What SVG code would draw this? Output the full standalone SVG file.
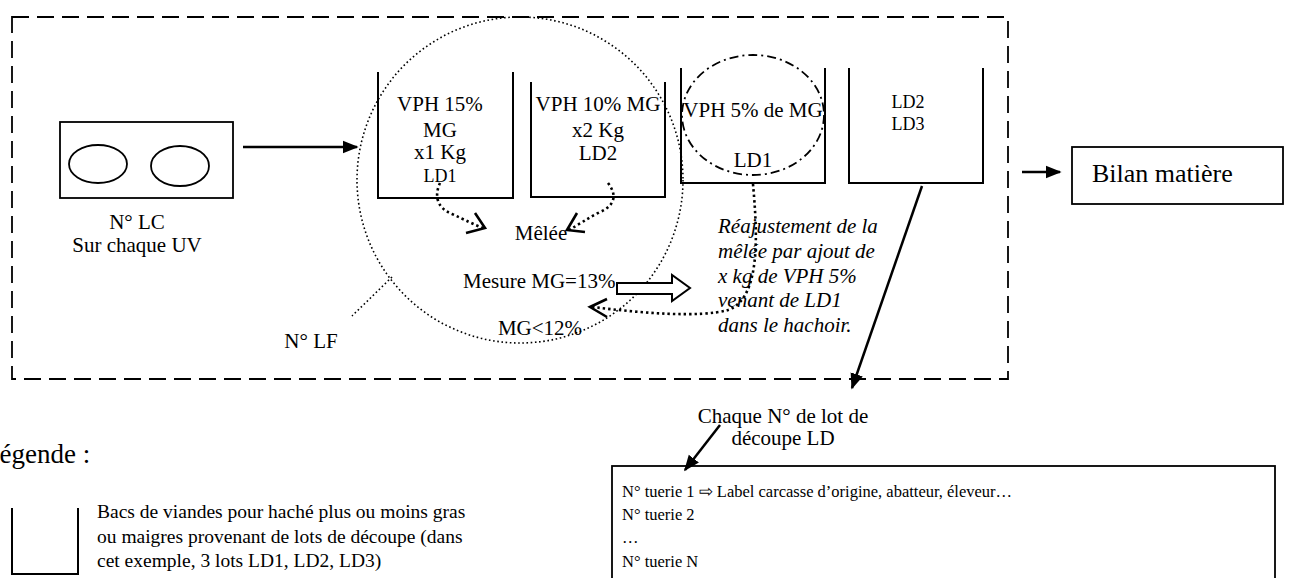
<svg xmlns="http://www.w3.org/2000/svg" width="1295" height="578" viewBox="0 0 1295 578" font-family="'Liberation Serif', 'Times New Roman', serif">
<style>
text{font-family:"Liberation Serif","Times New Roman",serif;fill:#000}
.t21{font-size:21px}
.t18{font-size:18px}
.leg{font-size:19.5px}
.tu{font-size:16.5px}
.it{font-style:italic;font-size:21px}
.bin{fill:none;stroke:#000;stroke-width:2}
.dotc{fill:none;stroke:#000;stroke-width:1.6;stroke-dasharray:1.6 2.6}
.doth{fill:none;stroke:#000;stroke-width:2.6;stroke-dasharray:2.4 3}
.chev{fill:none;stroke:#000;stroke-width:2.6}
.conn{fill:none;stroke:#000;stroke-width:2.5}
</style>
<defs>
<marker id="ahBig" viewBox="0 0 10 10" refX="9" refY="5" markerWidth="16" markerHeight="16" markerUnits="userSpaceOnUse" orient="auto">
<path d="M0,1 L10,5 L0,9 z" fill="#000"/>
</marker>
</defs>

<g id="frame">
<rect x="12" y="17" width="996" height="362" fill="none" stroke="#000" stroke-width="1.8" stroke-dasharray="17 8"/>
</g>

<g id="lc">
<rect x="60" y="122" width="173" height="76" fill="none" stroke="#000" stroke-width="1.8"/>
<ellipse cx="98" cy="164" rx="29" ry="19" fill="none" stroke="#000" stroke-width="1.8"/>
<ellipse cx="180" cy="166" rx="29" ry="20" fill="none" stroke="#000" stroke-width="1.8"/>
<text class="t21" x="137" y="229" text-anchor="middle">N° LC</text>
<text class="t21" x="137" y="252" text-anchor="middle">Sur chaque UV</text>
</g>

<g id="lf">
<circle cx="520" cy="180" r="163" class="dotc"/>
<path d="M392,277 L352,316" class="dotc"/>
<text class="t21" x="311" y="348" text-anchor="middle">N° LF</text>
</g>

<g id="bin1">
<path d="M378,72 V198 H513 V72" class="bin"/>
<text class="t21" x="440" y="111" text-anchor="middle">VPH 15%</text>
<text class="t21" x="440" y="137" text-anchor="middle">MG</text>
<text class="t21" x="440" y="159" text-anchor="middle">x1 Kg</text>
<text class="t18" x="440" y="182" text-anchor="middle">LD1</text>
</g>

<g id="bin2">
<path d="M531,82 V197 H665 V82" class="bin"/>
<text class="t21" x="598" y="111" text-anchor="middle">VPH 10% MG</text>
<text class="t21" x="598" y="137" text-anchor="middle">x2 Kg</text>
<text class="t21" x="598" y="160" text-anchor="middle">LD2</text>
</g>

<g id="bin3">
<path d="M681,68 V183 H825 V68" class="bin"/>
<ellipse cx="753" cy="115" rx="71" ry="60" fill="none" stroke="#000" stroke-width="1.8" stroke-dasharray="9 4 2 4"/>
<text class="t21" x="753" y="117" text-anchor="middle">VPH 5% de MG</text>
<text class="t21" x="753" y="167" text-anchor="middle">LD1</text>
</g>

<g id="bin4">
<path d="M849,68 V183 H983 V68" class="bin"/>
<text class="t18" x="908" y="108" text-anchor="middle">LD2</text>
<text class="t18" x="908" y="130" text-anchor="middle">LD3</text>
</g>

<g id="melee">
<text class="t21" x="541" y="240" text-anchor="middle">Mêlée</text>
<text class="t21" x="463" y="288">Mesure MG=13%</text>
<text class="t21" x="540" y="335" text-anchor="middle">MG&lt;12%</text>
<polygon points="617,283 672,283 672,275 690,288 672,301 672,294 617,294" fill="#fff" stroke="#000" stroke-width="2"/>
</g>

<g id="note">
<text class="it" x="718" y="233">Réajustement de la</text>
<text class="it" x="718" y="258">mêlée par ajout de</text>
<text class="it" x="718" y="283">x kg de VPH 5%</text>
<text class="it" x="718" y="307">venant de LD1</text>
<text class="it" x="718" y="332">dans le hachoir.</text>
</g>

<g id="bilan">
<rect x="1072" y="147" width="211" height="57" fill="none" stroke="#000" stroke-width="1.8"/>
<text x="1092" y="182" style="font-size:26px">Bilan matière</text>
</g>

<g id="legend">
<text x="-17" y="463" style="font-size:27px">Légende :</text>
<path d="M12,508 V574 H78 V508" class="bin"/>
<text class="leg" x="97" y="518">Bacs de viandes pour haché plus ou moins gras</text>
<text class="leg" x="97" y="543">ou maigres provenant de lots de découpe (dans</text>
<text class="leg" x="97" y="567">cet exemple, 3 lots LD1, LD2, LD3)</text>
</g>

<g id="chaque">
<text class="t21" x="783" y="423" text-anchor="middle">Chaque N° de lot de</text>
<text class="t21" x="783" y="445" text-anchor="middle">découpe LD</text>
</g>

<g id="tuerie">
<rect x="612" y="466" width="663" height="130" fill="none" stroke="#000" stroke-width="1.8"/>
<text class="tu" x="622" y="497">N° tuerie 1 ⇨ Label carcasse d’origine, abatteur, éleveur…</text>
<text class="tu" x="622" y="520">N° tuerie 2</text>
<text class="tu" x="622" y="543">…</text>
<text class="tu" x="622" y="567">N° tuerie N</text>
</g>

<g id="connectors">
<path d="M243,147 H357" class="conn" marker-end="url(#ahBig)"/>
<path d="M1022,172 H1060" class="conn" marker-end="url(#ahBig)"/>
<path d="M922,186 L852,388" class="conn" marker-end="url(#ahBig)"/>
<path d="M720,425 L685,470" class="conn" marker-end="url(#ahBig)"/>
<path d="M440,183 C434,196 437,208 452,214 C465,220 475,225 483,228" class="doth"/>
<path d="M466,233 L485,228 L475,213" class="chev"/>
<path d="M608,183 C618,196 614,206 600,212 C588,218 578,225 569,230" class="doth"/>
<path d="M577,213 L567,230 L585,232" class="chev"/>
<path d="M753,184 C757,230 762,298 728,310 C700,318 640,313 593,307" class="doth"/>
<path d="M607,299 L590,307 L607,317" class="chev"/>
</g>
</svg>
